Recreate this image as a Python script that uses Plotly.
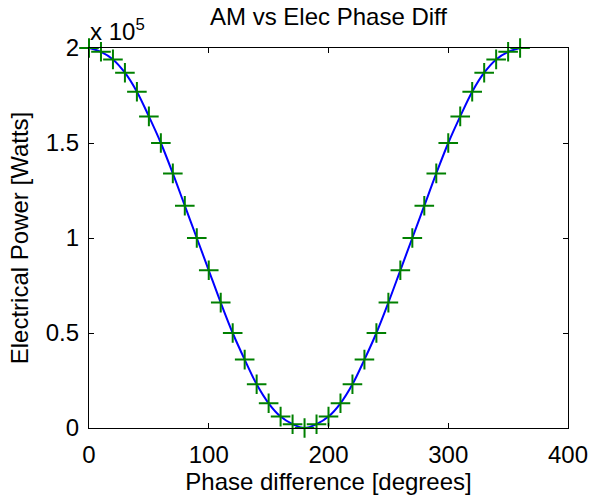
import plotly.graph_objects as go

# Phase difference between the AM and electrical signals (degrees)
phase_deg = [0, 10, 20, 30, 40, 50, 60, 70, 80, 90, 100, 110, 120, 130, 140, 150, 160, 170, 180,
             190, 200, 210, 220, 230, 240, 250, 260, 270, 280, 290, 300, 310, 320, 330, 340, 350, 360]

# Electrical power, in units of 1e5 W
power_e5 = [2.00, 1.98, 1.94, 1.87, 1.77, 1.64, 1.50, 1.34, 1.17, 1.00, 0.83, 0.66, 0.50, 0.36, 0.23,
            0.13, 0.06, 0.02, 0.00, 0.02, 0.06, 0.13, 0.23, 0.36, 0.50, 0.66, 0.83, 1.00, 1.17, 1.34,
            1.50, 1.64, 1.77, 1.87, 1.94, 1.98, 2.00]

x_ticks = [0, 100, 200, 300, 400]
y_ticks = [0, 0.5, 1, 1.5, 2]
y_tick_text = ["0", "0.5", "1", "1.5", "2"]

FONT = "Liberation Sans, Arial, Helvetica, sans-serif"
FS = 24

fig = go.Figure()
fig.add_trace(go.Scatter(
    x=phase_deg, y=power_e5, mode="lines",
    line=dict(color="rgb(0,0,255)", width=2, shape="spline"),
    cliponaxis=False, hoverinfo="skip", showlegend=False,
))
fig.add_trace(go.Scatter(
    x=phase_deg, y=power_e5, mode="markers",
    marker=dict(symbol="cross-thin", size=14, color="rgb(0,128,0)",
                line=dict(color="rgb(0,128,0)", width=2)),
    cliponaxis=False, showlegend=False,
))

axis_common = dict(
    showline=True, linecolor="black", linewidth=1.2, mirror="ticks",
    ticks="inside", ticklen=5, tickcolor="black", tickwidth=1,
    showgrid=False, zeroline=False, automargin=False,
    tickfont=dict(family=FONT, size=FS, color="black"),
)

fig.update_xaxes(
    range=[0, 400], tickvals=x_ticks, ticktext=[str(v) for v in x_ticks],
    title=dict(text="Phase difference [degrees]", font=dict(family=FONT, size=FS, color="black"),
               standoff=6),
    ticklabelstandoff=5,
    **axis_common,
)
fig.update_yaxes(
    range=[0, 2], tickvals=y_ticks, ticktext=y_tick_text,
    title=dict(text="Electrical Power [Watts]", font=dict(family=FONT, size=FS, color="black"),
               standoff=10),
    ticklabelstandoff=4,
    **axis_common,
)

fig.add_annotation(
    text="AM vs Elec Phase Diff", xref="paper", yref="paper", x=0.5, y=1,
    xanchor="center", yanchor="bottom", yshift=16, showarrow=False,
    font=dict(family=FONT, size=FS, color="black"),
)
fig.add_annotation(
    text="x 10<sup>5</sup>", xref="paper", yref="paper", x=0, y=1,
    xanchor="left", yanchor="bottom", xshift=-1, yshift=1, showarrow=False,
    font=dict(family=FONT, size=FS, color="black"),
)

fig.update_layout(
    width=590, height=496,
    margin=dict(l=89, r=22, t=48, b=68, autoexpand=False),
    paper_bgcolor="white", plot_bgcolor="white",
)

fig.write_html("out.html")
